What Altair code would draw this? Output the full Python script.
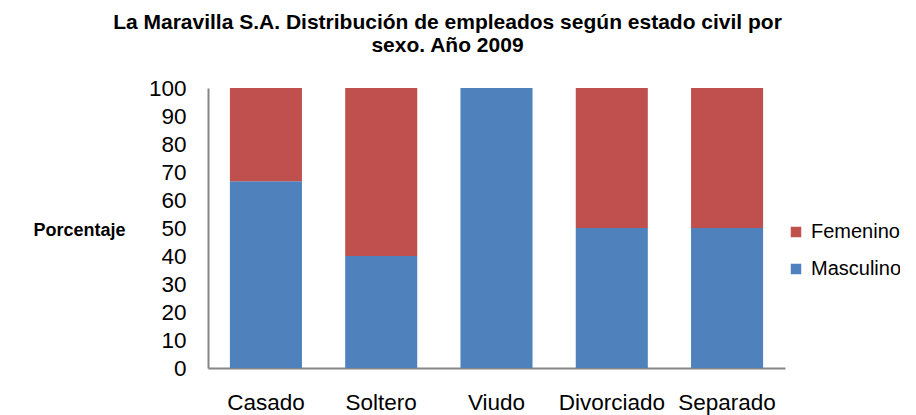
import altair as alt
import pandas as pd

categorias = ["Casado", "Soltero", "Viudo", "Divorciado", "Separado"]
masculino = [66.7, 40.0, 100.0, 50.0, 50.0]
femenino = [33.3, 60.0, 0.0, 50.0, 50.0]

rows = []
for c, m, f in zip(categorias, masculino, femenino):
    rows.append({"estado": c, "sexo": "Masculino", "pct": m, "orden": 0})
    rows.append({"estado": c, "sexo": "Femenino", "pct": f, "orden": 1})
df = pd.DataFrame(rows)

FONT = "Liberation Sans"

chart = alt.Chart(df).mark_bar().encode(
    x=alt.X("estado:N", sort=categorias, title=None,
            scale=alt.Scale(paddingInner=0.375, paddingOuter=0.19),
            axis=alt.Axis(labelAngle=0, ticks=False, labelPadding=23,
                          labelFontSize=22.5, labelColor="#000000",
                          domainColor="#868686", domainWidth=2, grid=False)),
    y=alt.Y("pct:Q", stack="zero", title="Porcentaje",
            scale=alt.Scale(domain=[0, 100], nice=False),
            axis=alt.Axis(values=list(range(0, 101, 10)), ticks=False,
                          labelPadding=22, labelFontSize=22.5, labelColor="#000000",
                          domainColor="#868686", domainWidth=2, grid=False,
                          titleAngle=0, titleAlign="right", titleBaseline="middle",
                          titleX=-83, titleY=142, titleFontSize=18,
                          titleFontWeight="bold", titleColor="#000000")),
    color=alt.Color("sexo:N",
                    scale=alt.Scale(domain=["Femenino", "Masculino"],
                                    range=["#C0504D", "#4F81BD"]),
                    legend=alt.Legend(title=None, orient="none", legendX=578,
                                      legendY=134, symbolType="square",
                                      symbolSize=110, symbolStrokeWidth=0,
                                      labelFontSize=20, labelColor="#000000",
                                      rowPadding=17, labelOffset=5)),
    order=alt.Order("orden:Q", sort="ascending"),
).properties(
    width=577,
    height=280,
    padding={"left": 200, "top": 80, "right": 115, "bottom": 47},
    autosize=alt.AutoSizeParams(type="none"),
    title=alt.Title(
        ["La Maravilla S.A. Distribución de empleados según estado civil por",
         "sexo. Año 2009"],
        fontSize=21, fontWeight="bold", color="#000000", anchor="middle",
        dx=-49, offset=21, lineHeight=23, font=FONT),
).configure(font=FONT).configure_view(stroke=None)

chart.save("out.html", embed_options={"renderer": "svg", "actions": False})
